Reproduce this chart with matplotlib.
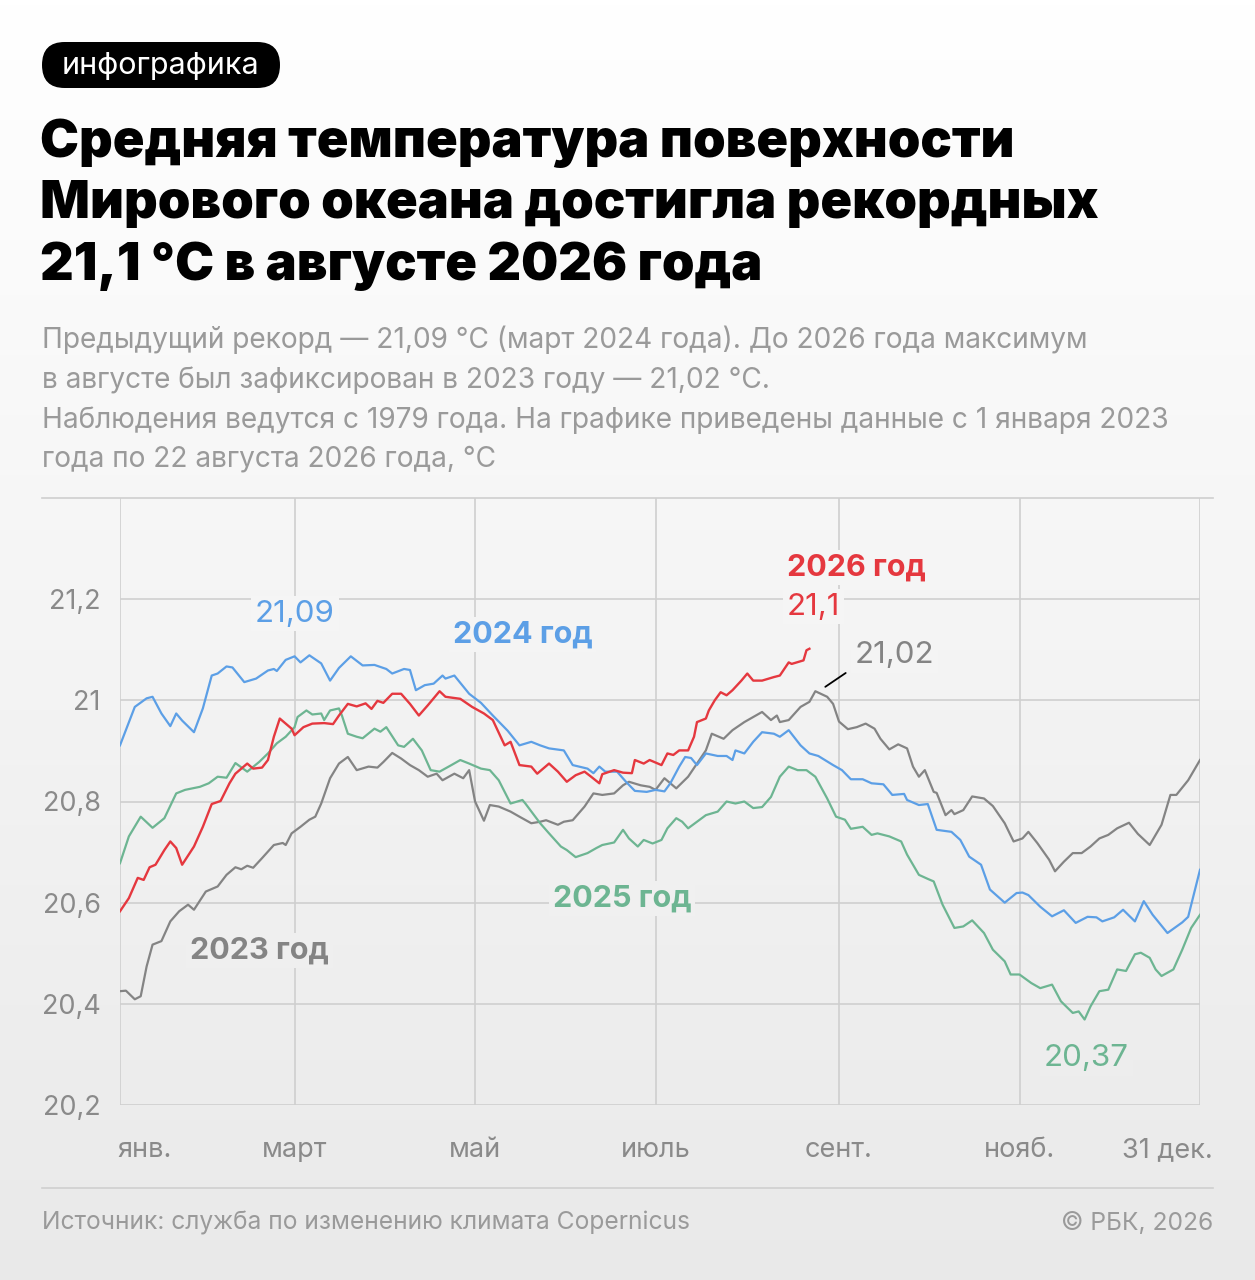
import numpy as np
import matplotlib
matplotlib.use("Agg")
import matplotlib.pyplot as plt
from matplotlib.patches import FancyBboxPatch
from matplotlib.lines import Line2D
import matplotlib.transforms as mtransforms

plt.rcParams['font.family'] = ['Inter', 'DejaVu Sans']

# ---- data: day of year (0 = 1 Jan) and temperature, °C ----
days_2023 = [0, 2, 5, 7, 9, 11, 14, 17, 20, 23, 25, 29, 33, 36, 39, 41, 43, 45, 48, 52, 55, 56,
             58, 61, 64, 66, 68, 71, 74, 77, 80, 84, 87, 89, 92, 95, 98, 101, 104, 107, 109,
             113, 116, 118, 120, 123, 125, 128, 132, 135, 139, 142, 144, 148, 150, 153, 157,
             160, 163, 167, 170, 172, 176, 179, 181, 184, 188, 192, 195, 198, 200, 204, 207,
             211, 214, 217, 220, 222, 223, 226, 228, 230, 233, 235, 239, 241, 243, 246, 249,
             252, 255, 257, 260, 263, 266, 268, 270, 272, 275, 276, 279, 281, 282, 285, 288,
             292, 295, 299, 302, 305, 307, 310, 314, 316, 319, 322, 325, 328, 331, 334, 337,
             341, 344, 348, 352, 355, 357, 361, 365]
temp_2023 = [20.425, 20.426, 20.409, 20.415, 20.474, 20.517, 20.524, 20.563, 20.583, 20.596,
             20.586, 20.622, 20.632, 20.655, 20.670, 20.666, 20.673, 20.669, 20.688, 20.714,
             20.718, 20.714, 20.737, 20.750, 20.764, 20.770, 20.796, 20.846, 20.875, 20.888,
             20.862, 20.869, 20.867, 20.878, 20.896, 20.885, 20.872, 20.862, 20.849, 20.855,
             20.842, 20.855, 20.846, 20.862, 20.800, 20.762, 20.793, 20.790, 20.780, 20.770,
             20.757, 20.760, 20.763, 20.754, 20.760, 20.763, 20.790, 20.816, 20.813, 20.816,
             20.832, 20.839, 20.832, 20.829, 20.823, 20.846, 20.826, 20.849, 20.875, 20.901,
             20.934, 20.924, 20.941, 20.957, 20.967, 20.977, 20.961, 20.970, 20.957, 20.961,
             20.974, 20.987, 20.997, 21.018, 21.007, 20.993, 20.958, 20.943, 20.947, 20.954,
             20.944, 20.924, 20.903, 20.913, 20.905, 20.869, 20.849, 20.862, 20.819, 20.817,
             20.773, 20.783, 20.775, 20.783, 20.810, 20.806, 20.791, 20.757, 20.721, 20.727,
             20.740, 20.718, 20.685, 20.662, 20.681, 20.698, 20.698, 20.711, 20.727, 20.734,
             20.747, 20.758, 20.736, 20.714, 20.754, 20.813, 20.813, 20.842, 20.882]

days_2024 = [0, 5, 9, 11, 14, 17, 19, 21, 25, 28, 31, 33, 36, 38, 42, 46, 50, 52, 53, 56, 59,
             61, 64, 68, 71, 74, 78, 82, 86, 90, 92, 96, 98, 100, 103, 106, 109, 110, 113, 118,
             122, 126, 131, 135, 139, 142, 145, 150, 153, 158, 160, 162, 164, 168, 171, 174,
             178, 181, 184, 186, 189, 191, 193, 195, 198, 202, 205, 207, 208, 211, 214, 217,
             221, 223, 226, 230, 233, 236, 241, 244, 247, 251, 254, 258, 261, 265, 266, 270,
             273, 276, 281, 284, 287, 291, 294, 299, 303, 305, 307, 311, 315, 319, 323, 327,
             330, 332, 336, 339, 343, 346, 349, 354, 359, 361, 365]
temp_2024 = [20.911, 20.987, 21.004, 21.007, 20.974, 20.949, 20.974, 20.960, 20.937, 20.984,
             21.049, 21.053, 21.067, 21.065, 21.036, 21.043, 21.059, 21.062, 21.058, 21.080,
             21.087, 21.075, 21.089, 21.073, 21.039, 21.064, 21.087, 21.069, 21.070, 21.062,
             21.053, 21.062, 21.060, 21.020, 21.030, 21.033, 21.049, 21.043, 21.049, 21.013,
             20.995, 20.970, 20.940, 20.911, 20.918, 20.911, 20.905, 20.901, 20.872, 20.865,
             20.856, 20.869, 20.859, 20.859, 20.839, 20.821, 20.819, 20.823, 20.820, 20.836,
             20.869, 20.888, 20.886, 20.872, 20.895, 20.890, 20.890, 20.882, 20.901, 20.895,
             20.918, 20.937, 20.934, 20.928, 20.941, 20.911, 20.895, 20.890, 20.872, 20.862,
             20.844, 20.844, 20.836, 20.834, 20.813, 20.815, 20.803, 20.793, 20.795, 20.744,
             20.740, 20.724, 20.691, 20.675, 20.626, 20.600, 20.619, 20.620, 20.615, 20.592,
             20.573, 20.585, 20.560, 20.572, 20.571, 20.563, 20.571, 20.586, 20.563, 20.603,
             20.576, 20.540, 20.561, 20.572, 20.665]

days_2025 = [0, 3, 7, 11, 15, 19, 22, 27, 30, 33, 36, 39, 43, 47, 50, 53, 56, 59, 60, 63, 65,
             68, 69, 71, 74, 75, 77, 80, 82, 86, 88, 90, 94, 96, 99, 102, 105, 108, 112, 115,
             118, 122, 125, 128, 132, 136, 137, 142, 145, 149, 151, 154, 158, 161, 163, 167,
             170, 172, 175, 177, 180, 183, 185, 188, 190, 192, 195, 198, 202, 205, 208, 211,
             214, 217, 220, 223, 226, 229, 232, 235, 239, 242, 245, 247, 251, 254, 256, 260,
             264, 266, 270, 273, 275, 278, 282, 285, 288, 292, 295, 299, 301, 304, 308, 311,
             315, 318, 322, 324, 326, 328, 331, 334, 337, 340, 343, 345, 348, 350, 352, 356,
             359, 362, 365]
temp_2025 = [20.678, 20.731, 20.770, 20.748, 20.767, 20.816, 20.823, 20.829, 20.836, 20.849,
             20.847, 20.876, 20.859, 20.878, 20.895, 20.915, 20.928, 20.947, 20.967, 20.980,
             20.972, 20.974, 20.961, 20.980, 20.984, 20.970, 20.934, 20.928, 20.925, 20.944,
             20.938, 20.947, 20.911, 20.908, 20.924, 20.901, 20.862, 20.859, 20.872, 20.882,
             20.875, 20.865, 20.862, 20.842, 20.796, 20.803, 20.796, 20.757, 20.737, 20.711,
             20.704, 20.690, 20.698, 20.708, 20.714, 20.719, 20.744, 20.727, 20.711, 20.724,
             20.717, 20.724, 20.747, 20.767, 20.760, 20.747, 20.760, 20.773, 20.780, 20.800,
             20.796, 20.800, 20.787, 20.789, 20.809, 20.849, 20.869, 20.862, 20.862, 20.849,
             20.806, 20.770, 20.764, 20.746, 20.750, 20.734, 20.737, 20.731, 20.721, 20.695,
             20.655, 20.647, 20.642, 20.596, 20.550, 20.553, 20.565, 20.540, 20.507, 20.484,
             20.458, 20.458, 20.441, 20.431, 20.438, 20.405, 20.382, 20.385, 20.369, 20.395,
             20.425, 20.428, 20.468, 20.465, 20.498, 20.501, 20.491, 20.468, 20.455, 20.468,
             20.507, 20.550, 20.576]

days_2026 = [0, 3, 6, 8, 10, 12, 15, 17, 19, 21, 25, 28, 31, 34, 37, 39, 43, 45, 48, 50, 52,
             54, 56, 58, 59, 62, 65, 69, 72, 74, 77, 80, 83, 85, 87, 89, 92, 95, 98, 101, 104,
             108, 110, 115, 119, 123, 126, 130, 132, 135, 139, 141, 145, 148, 151, 154, 157,
             159, 162, 163, 167, 170, 173, 174, 177, 179, 183, 185, 187, 189, 192, 194, 195,
             198, 199, 201, 203, 205, 207, 210, 212, 214, 217, 221, 223, 226, 227, 231, 232,
             233]
temp_2026 = [20.583, 20.609, 20.649, 20.645, 20.670, 20.675, 20.704, 20.721, 20.708, 20.675,
             20.711, 20.750, 20.795, 20.801, 20.836, 20.855, 20.875, 20.865, 20.867, 20.882,
             20.928, 20.964, 20.954, 20.944, 20.931, 20.947, 20.954, 20.955, 20.953, 20.970,
             20.993, 20.988, 20.994, 20.983, 20.999, 20.995, 21.013, 21.013, 20.993, 20.970,
             20.990, 21.018, 21.007, 21.003, 20.987, 20.974, 20.961, 20.911, 20.918, 20.872,
             20.869, 20.855, 20.875, 20.859, 20.839, 20.852, 20.859, 20.850, 20.836, 20.854,
             20.862, 20.857, 20.856, 20.882, 20.875, 20.882, 20.872, 20.895, 20.892, 20.901,
             20.901, 20.928, 20.957, 20.964, 20.980, 21.000, 21.016, 21.010, 21.020, 21.039,
             21.053, 21.039, 21.039, 21.046, 21.049, 21.075, 21.072, 21.079, 21.099, 21.102]

month_days = [0, 59, 120, 181, 243, 304, 365]
month_labels = ['янв.', 'март', 'май', 'июль', 'сент.', 'нояб.', '31 дек.']
y_ticks = [20.2, 20.4, 20.6, 20.8, 21.0, 21.2]
y_labels = ['20,2', '20,4', '20,6', '20,8', '21', '21,2']

title = ('Средняя температура поверхности\n'
         'Мирового океана достигла рекордных\n'
         '21,1 °C в августе 2026 года')
subtitle = ('Предыдущий рекорд — 21,09 °C (март 2024 года). До 2026 года максимум\n'
            'в августе был зафиксирован в 2023 году — 21,02 °C.\n'
            'Наблюдения ведутся с 1979 года. На графике приведены данные с 1 января 2023\n'
            'года по 22 августа 2026 года, °C')
source = 'Источник: служба по изменению климата Copernicus'
copyright_text = '© РБК, 2026'

RED = '#e5383f'
BLUE = '#5c9fe6'
GREEN = '#6db592'
GREY = '#848484'

W, H = 1255, 1280
fig = plt.figure(figsize=(W / 100, H / 100), dpi=100)


def fx(x):
    return x / W


def fy(y):
    return 1 - y / H


def bg_grey(y):
    # grey level of the background gradient at pixel row y
    g = 1.0 - 0.085 * (y / H)
    return (g, g, g)


# background gradient
bg = fig.add_axes([0, 0, 1, 1], zorder=-10)
grad = np.linspace(1.0, 0.915, 256).reshape(-1, 1)
bg.imshow(np.dstack([grad, grad, grad]), aspect='auto', extent=[0, 1, 0, 1])
bg.axis('off')

# badge
badge = FancyBboxPatch((fx(42), fy(88)), fx(280) - fx(42), fy(42) - fy(88),
                       boxstyle='round,pad=0,rounding_size=0.018',
                       transform=fig.transFigure, fc='black', ec='none')
fig.patches.append(badge)
fig.text(fx(161), fy(66), 'инфографика', color='white', fontsize=22,
         ha='center', va='center')

fig.text(fx(40), fy(118), title, fontsize=37.6, fontweight='black', color='black',
         ha='left', va='top', linespacing=1.33)
fig.text(fx(42), fy(325), subtitle, fontsize=20.2, color='#9a9a9a',
         ha='left', va='top', linespacing=1.57)

# top separator and footer line
fig.add_artist(Line2D([fx(42), fx(1213)], [fy(498), fy(498)], color='#cfcfcf', lw=1.2,
                      transform=fig.transFigure))
fig.add_artist(Line2D([fx(42), fx(1213)], [fy(1188), fy(1188)], color='#cfcfcf', lw=1.2,
                      transform=fig.transFigure))
fig.text(fx(42), fy(1223), source, fontsize=17.7, color='#9a9a9a', ha='left', va='center')
fig.text(fx(1213), fy(1223), copyright_text, fontsize=17.7, color='#9a9a9a',
         ha='right', va='center')

# chart
ax = fig.add_axes([fx(120), fy(1105), fx(1200) - fx(120), fy(498) - fy(1105)])
ax.set_facecolor('none')
ax.set_xlim(0, 365)
ax.set_ylim(20.2, 21.4)
for s in ax.spines.values():
    s.set_visible(False)
for d in month_days:
    ax.axvline(d, color='#cfcfcf', lw=1.2, zorder=0)
for v in y_ticks:
    ax.axhline(v, color='#cfcfcf', lw=1.2, zorder=0)

ax.plot(days_2023, temp_2023, color=GREY, lw=1.6, zorder=3)
ax.plot(days_2025, temp_2025, color=GREEN, lw=1.6, zorder=3)
ax.plot(days_2024, temp_2024, color=BLUE, lw=1.6, zorder=4)
ax.plot(days_2026, temp_2026, color=RED, lw=1.7, zorder=5)

ax.set_yticks(y_ticks)
ax.set_yticklabels(y_labels, fontsize=19.5, color='#8a8a8a')
ax.tick_params(axis='y', length=0, pad=14)
ax.set_xticks([])
for d, lab in zip(month_days, month_labels):
    ha, off = 'center', 0
    if d == 0:
        ha, off = 'left', -3
    elif d == 365:
        ha, off = 'right', 13
    tr = ax.get_xaxis_transform() + mtransforms.Affine2D().translate(off, 0)
    ax.text(d, -0.074, lab, transform=tr, fontsize=19.5,
            color='#8a8a8a', ha=ha, va='center')


def px2data(x, y):
    return (x - 120) / 1080 * 365, 21.0 - (y - 700) / 507.5


def label(x, y, s, color, size=22.5, weight='normal', ha='left'):
    dx, dy = px2data(x, y)
    ax.text(dx, dy, s, color=color, fontsize=size, fontweight=weight, ha=ha,
            va='center', zorder=6,
            bbox=dict(boxstyle='square,pad=0.12', fc=bg_grey(y), ec='none'))


label(295, 613, '21,09', BLUE, ha='center')
label(453, 634, '2024 год', BLUE, size=22, weight='bold')
label(787, 567, '2026 год', RED, size=22, weight='bold')
label(787, 606, '21,1', RED)
label(855, 655, '21,02', GREY)
label(553, 899, '2025 год', GREEN, size=22, weight='bold')
label(190, 951, '2023 год', GREY, size=22, weight='bold')
label(1044, 1059, '20,37', GREEN)

x0, y0 = px2data(823, 688)
x1, y1 = px2data(848, 671)
ax.annotate('', xy=(x0, y0), xytext=(x1, y1),
            arrowprops=dict(arrowstyle='-', color='black', lw=1.3), zorder=6)

fig.savefig('out.png', dpi=100)
